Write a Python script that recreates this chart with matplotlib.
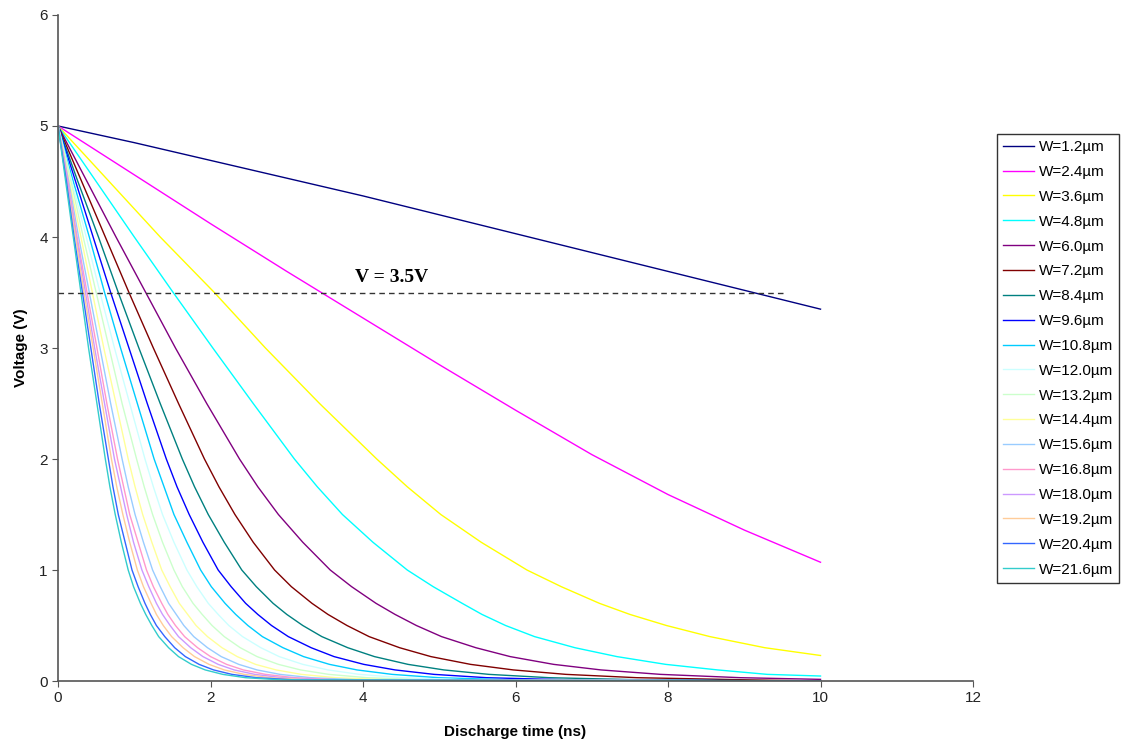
import matplotlib
matplotlib.use("Agg")
import matplotlib.pyplot as plt

# discharge curves
# W=1.2 and 2.4 um: voltage read at fixed times (ns)
t_slow = [0, 1, 2, 3, 4, 5, 6, 7, 8, 9, 10]
v_w1_2 = [5.0, 4.85, 4.69, 4.53, 4.37, 4.20, 4.03, 3.86, 3.69, 3.52, 3.35]
v_w2_4 = [5.0, 4.56, 4.12, 3.69, 3.27, 2.85, 2.44, 2.04, 1.68, 1.36, 1.07]

# W=3.6, 4.8, 6.0 um: time (ns) / voltage pairs, they end above 0 V at 10 ns
t_w3_6 = [0, 0.67, 1.34, 2.05, 2.72, 3.43, 4.18, 4.58, 5.02, 5.55, 6.15, 6.60,
          7.10, 7.50, 7.98, 8.55, 9.27, 10.0]
v_w3_6 = [5.0, 4.5, 4.0, 3.5, 3.0, 2.5, 2.0, 1.75, 1.5, 1.25, 1.0, 0.85,
          0.7, 0.6, 0.5, 0.4, 0.3, 0.23]
t_w4_8 = [0, 0.50, 1.00, 1.51, 2.03, 2.56, 3.10, 3.40, 3.73, 4.13, 4.58, 4.92,
          5.30, 5.56, 5.87, 6.25, 6.78, 7.33, 7.97, 8.65, 9.30, 10.0]
v_w4_8 = [5.0, 4.5, 4.0, 3.5, 3.0, 2.5, 2.0, 1.75, 1.5, 1.25, 1.0, 0.85,
          0.7, 0.6, 0.5, 0.4, 0.3, 0.22, 0.15, 0.1, 0.06, 0.045]
t_w6_0 = [0, 0.38, 0.76, 1.15, 1.54, 1.95, 2.38, 2.62, 2.89, 3.21, 3.57, 3.85,
          4.17, 4.42, 4.70, 5.03, 5.48, 5.93, 6.50, 7.12, 7.90, 8.95, 10.0]
v_w6_0 = [5.0, 4.5, 4.0, 3.5, 3.0, 2.5, 2.0, 1.75, 1.5, 1.25, 1.0, 0.85,
          0.7, 0.6, 0.5, 0.4, 0.3, 0.22, 0.15, 0.1, 0.06, 0.03, 0.015]

# W=7.2 .. 21.6 um: time (ns) at which each curve crosses these voltages
levels = [5.0, 4.5, 4.0, 3.5, 3.0, 2.5, 2.0, 1.75, 1.5, 1.25, 1.0, 0.85,
          0.7, 0.6, 0.5, 0.4, 0.3, 0.22, 0.15, 0.1, 0.06, 0.03, 0.01]
tc_w7_2 = [0, 0.31, 0.62, 0.93, 1.25, 1.58, 1.92, 2.11, 2.32, 2.56, 2.84, 3.06,
           3.33, 3.54, 3.79, 4.08, 4.48, 4.89, 5.41, 5.97, 6.66, 7.59, 9.09]
tc_w8_4 = [0, 0.26, 0.53, 0.79, 1.06, 1.34, 1.63, 1.79, 1.97, 2.18, 2.41, 2.60,
           2.82, 3.00, 3.21, 3.46, 3.80, 4.15, 4.59, 5.06, 5.65, 6.44, 7.71]
tc_w9_6 = [0, 0.23, 0.46, 0.69, 0.93, 1.17, 1.42, 1.56, 1.72, 1.90, 2.10, 2.27,
           2.46, 2.62, 2.80, 3.02, 3.32, 3.62, 4.01, 4.42, 4.93, 5.62, 6.73]
tc_w10_8 = [0, 0.20, 0.41, 0.61, 0.82, 1.04, 1.26, 1.39, 1.52, 1.69, 1.87, 2.01,
            2.19, 2.33, 2.49, 2.68, 2.95, 3.22, 3.56, 3.92, 4.38, 4.99, 5.98]
tc_w12_0 = [0, 0.18, 0.37, 0.55, 0.74, 0.94, 1.14, 1.25, 1.37, 1.52, 1.69, 1.82,
            1.97, 2.10, 2.24, 2.42, 2.66, 2.90, 3.21, 3.54, 3.95, 4.50, 5.39]
tc_w13_2 = [0, 0.17, 0.33, 0.50, 0.67, 0.84, 1.03, 1.13, 1.24, 1.37, 1.52, 1.63,
            1.77, 1.89, 2.02, 2.18, 2.39, 2.61, 2.89, 3.18, 3.55, 4.05, 4.85]
tc_w14_4 = [0, 0.15, 0.30, 0.45, 0.60, 0.76, 0.92, 1.01, 1.11, 1.23, 1.36, 1.47,
            1.59, 1.70, 1.81, 1.96, 2.15, 2.35, 2.59, 2.86, 3.19, 3.64, 4.36]
tc_w15_6 = [0, 0.14, 0.27, 0.41, 0.55, 0.69, 0.84, 0.92, 1.01, 1.12, 1.24, 1.34,
            1.45, 1.55, 1.65, 1.78, 1.96, 2.14, 2.37, 2.61, 2.91, 3.32, 3.97]
tc_w16_8 = [0, 0.13, 0.25, 0.38, 0.51, 0.64, 0.78, 0.86, 0.94, 1.05, 1.16, 1.25,
            1.36, 1.44, 1.54, 1.66, 1.83, 2.00, 2.21, 2.43, 2.72, 3.10, 3.71]
tc_w18_0 = [0, 0.12, 0.24, 0.36, 0.48, 0.61, 0.74, 0.82, 0.90, 0.99, 1.10, 1.19,
            1.29, 1.37, 1.47, 1.58, 1.74, 1.90, 2.10, 2.31, 2.58, 2.94, 3.52]
tc_w19_2 = [0, 0.11, 0.23, 0.34, 0.46, 0.58, 0.70, 0.77, 0.85, 0.94, 1.04, 1.12,
            1.22, 1.29, 1.38, 1.49, 1.64, 1.79, 1.98, 2.18, 2.44, 2.78, 3.32]
tc_w20_4 = [0, 0.11, 0.21, 0.32, 0.43, 0.54, 0.66, 0.72, 0.79, 0.88, 0.97, 1.05,
            1.14, 1.21, 1.29, 1.40, 1.53, 1.67, 1.85, 2.04, 2.28, 2.60, 3.11]
tc_w21_6 = [0, 0.10, 0.20, 0.30, 0.40, 0.51, 0.62, 0.68, 0.75, 0.83, 0.92, 0.99,
            1.08, 1.15, 1.23, 1.32, 1.45, 1.58, 1.75, 1.93, 2.16, 2.46, 2.94]

labels = ["W=1.2µm", "W=2.4µm", "W=3.6µm", "W=4.8µm", "W=6.0µm", "W=7.2µm",
          "W=8.4µm", "W=9.6µm", "W=10.8µm", "W=12.0µm", "W=13.2µm", "W=14.4µm",
          "W=15.6µm", "W=16.8µm", "W=18.0µm", "W=19.2µm", "W=20.4µm", "W=21.6µm"]
colors = ["#000080", "#FF00FF", "#FFFF00", "#00FFFF", "#800080", "#800000",
          "#008080", "#0000FF", "#00CCFF", "#CCFFFF", "#CCFFCC", "#FFFF99",
          "#99CCFF", "#FF99CC", "#CC99FF", "#FFCC99", "#3366FF", "#33CCCC"]

threshold = 3.5
threshold_end = 9.56

curves = [(t_slow, v_w1_2), (t_slow, v_w2_4), (t_w3_6, v_w3_6),
          (t_w4_8, v_w4_8), (t_w6_0, v_w6_0)]
for tc in [tc_w7_2, tc_w8_4, tc_w9_6, tc_w10_8, tc_w12_0, tc_w13_2, tc_w14_4,
           tc_w15_6, tc_w16_8, tc_w18_0, tc_w19_2, tc_w20_4, tc_w21_6]:
    curves.append((tc + [10.0], levels + [0.0]))

plt.rcParams["font.family"] = ["Liberation Sans", "DejaVu Sans"]

fig = plt.figure(figsize=(11.25, 7.46), dpi=100)
ax = fig.add_axes([0.0516, 0.0871, 0.8133, 0.8928])

for (t, v), lab, c in zip(curves, labels, colors):
    ax.plot(t, v, color=c, lw=1.0, label=lab)

ax.plot([0, threshold_end], [threshold, threshold], color="#333333", lw=1.0,
        ls=(0, (4, 3)))
ax.text(4.38, threshold + 0.06, "V = 3.5V", family="Liberation Serif",
        fontweight="bold", fontsize=14, ha="center", va="bottom")

ax.set_xlim(0, 12)
ax.set_ylim(0, 6)
ax.set_xticks(range(0, 13, 2))
ax.set_yticks(range(0, 7))
for s in ["top", "right"]:
    ax.spines[s].set_visible(False)
for s in ["left", "bottom"]:
    ax.spines[s].set_color("#555555")
    ax.spines[s].set_linewidth(1.2)
ax.tick_params(direction="out", length=4, color="#555555", labelsize=11,
               labelcolor="#222222")
ax.set_xlabel("Discharge time (ns)", fontweight="bold", fontsize=11, labelpad=14)
ax.set_ylabel("Voltage (V)", fontweight="bold", fontsize=11, labelpad=8)

leg = fig.legend(loc="upper left", bbox_to_anchor=(997 / 1125, 1 - 134 / 746),
                 bbox_transform=fig.transFigure, borderaxespad=0, fontsize=11,
                 frameon=True, fancybox=False, edgecolor="black",
                 handlelength=2.0, labelspacing=0.71, borderpad=0.4,
                 handletextpad=0.35)
leg.get_frame().set_linewidth(1.0)

fig.savefig("out.png", dpi=100, facecolor="white")
